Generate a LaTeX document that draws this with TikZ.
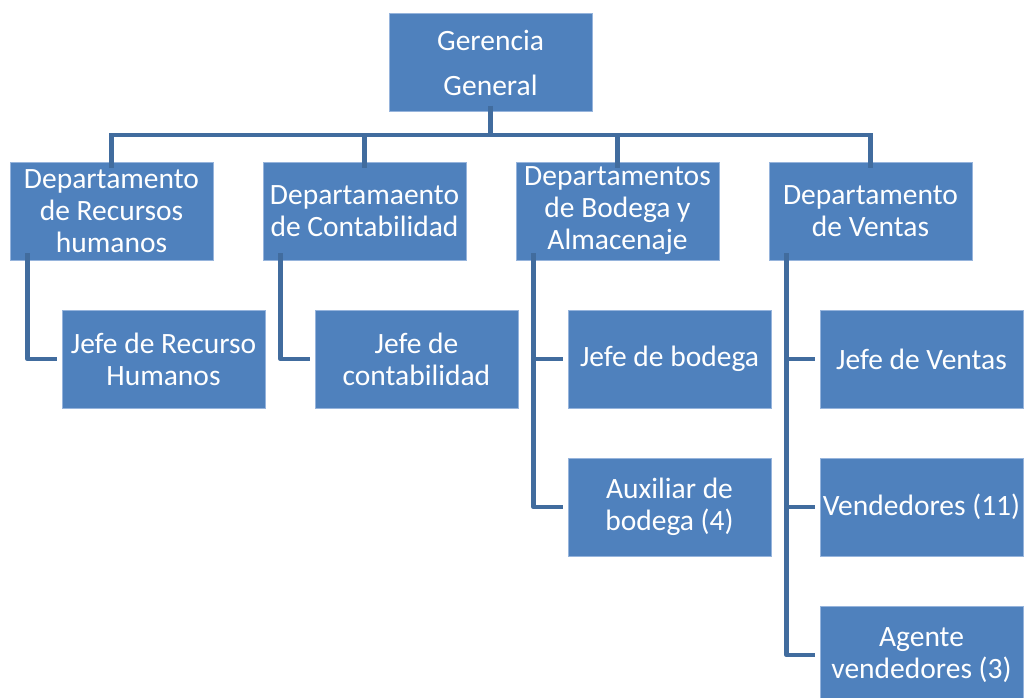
\documentclass[tikz,border=0pt]{standalone}
\usepackage{fontspec}
\setmainfont{Carlito}
\definecolor{boxblue}{RGB}{79,129,189}
\definecolor{boxedge}{RGB}{150,180,220}
\definecolor{connblue}{RGB}{65,108,158}
\begin{document}
\begin{tikzpicture}[x=1pt,y=-1pt,
  orgbox/.style={fill=boxblue,draw=boxedge,line width=0.8pt,text=white,
    minimum width=203pt,minimum height=98pt,inner sep=0pt,align=center,
    font=\fontsize{29.5}{32}\selectfont},
  conn/.style={draw=connblue,line width=4.5pt,line join=round}]
\clip (0,0) rectangle (1025,698);
\node[orgbox,font=\fontsize{29.5}{45}\selectfont] (ger) at (490.5,62.5) {Gerencia\\General};
\node[orgbox] (d1) at (111.5,211) {Departamento\\de Recursos\\humanos};
\node[orgbox] (d2) at (364.5,211) {Departamaento\\de Contabilidad};
\node[orgbox] (d3) at (617.5,211) {Departamentos\\de Bodega y\\Almacenaje};
\node[orgbox] (d4) at (870.5,211) {Departamento\\de Ventas};
\node[orgbox] (j1) at (163.5,359) {Jefe de Recurso\\Humanos};
\node[orgbox] (j2) at (416.5,359) {Jefe de\\contabilidad};
\node[orgbox] (b1) at (669.5,359) {Jefe de bodega};
\node[orgbox] (b2) at (669.5,507) {Auxiliar de\\bodega (4)};
\node[orgbox] (v1) at (921.5,359) {Jefe de Ventas};
\node[orgbox] (v2) at (921.5,507) {Vendedores (11)};
\node[orgbox] (v3) at (921.5,655) {Agente\\vendedores (3)};
\coordinate (bus) at (0,135);
\draw[conn] ([yshift=6pt]ger.south) -- (ger.south |- bus);
\draw[conn,line cap=rect] (d1.north |- bus) -- (d4.north |- bus);
\foreach \d in {d1,d2,d3,d4}{
  \draw[conn] (\d.north |- bus) -- ([yshift=-6pt]\d.north);
}
\draw[conn] ([xshift=18pt,yshift=7pt]d1.south west) |- ([xshift=-5pt]j1.west);
\draw[conn] ([xshift=18pt,yshift=7pt]d2.south west) |- ([xshift=-5pt]j2.west);
\draw[conn] ([xshift=18pt,yshift=7pt]d3.south west) |- ([xshift=-5pt]b2.west);
\draw[conn] ([xshift=18pt]d3.south west |- b1.west) -- ([xshift=-5pt]b1.west);
\draw[conn] ([xshift=18pt,yshift=7pt]d4.south west) |- ([xshift=-5pt]v3.west);
\draw[conn] ([xshift=18pt]d4.south west |- v1.west) -- ([xshift=-5pt]v1.west);
\draw[conn] ([xshift=18pt]d4.south west |- v2.west) -- ([xshift=-5pt]v2.west);
\end{tikzpicture}
\end{document}
